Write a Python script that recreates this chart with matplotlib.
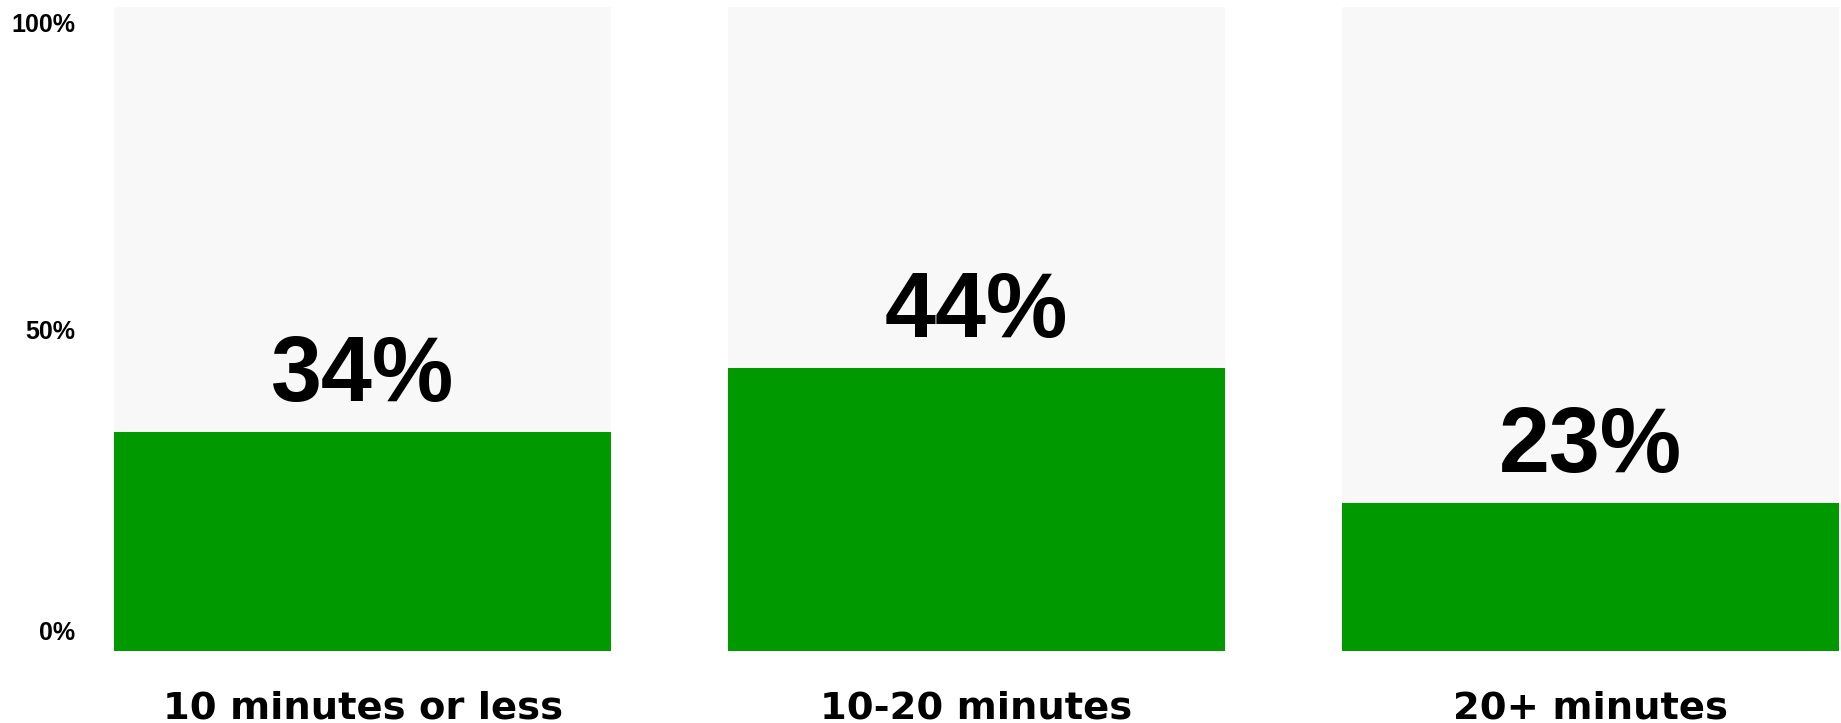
import matplotlib.pyplot as plt

categorias = ["10 minutes or less", "10-20 minutes", "20+ minutes"]
valores = [34, 44, 23]
rotulos = ["34%", "44%", "23%"]
ticks_y = [0, 50, 100]
rotulos_y = ["0%", "50%", "100%"]

plt.rcParams["font.family"] = ["Liberation Sans", "DejaVu Sans"]

fig = plt.figure(figsize=(18.41, 7.23), dpi=100)
ax = fig.add_axes([114 / 1841, 72 / 723, 1725 / 1841, 644 / 723])

x = list(range(len(categorias)))
largura = 0.809

# fundo cinza (100%) e barra verde
ax.bar(x, [100] * len(x), width=largura, color="#f8f8f8", zorder=1)
ax.bar(x, valores, width=largura, color="#009a00", zorder=2)

ax.set_xlim(-0.405, 2.405)
ax.set_ylim(0, 100)

# valores grandes acima das barras
for i, (v, r) in enumerate(zip(valores, rotulos)):
    ax.annotate(r, xy=(i, v), xytext=(0, 22), textcoords="offset points",
                ha="center", va="baseline", fontsize=66, fontweight="bold")

# categorias embaixo
for i, c in enumerate(categorias):
    ax.annotate(c, xy=(i, 0), xycoords=("data", "axes fraction"),
                xytext=(0, -48.5), textcoords="offset points",
                ha="center", va="baseline", fontsize=27.7, fontweight="bold",
                family=["DejaVu Sans"])

# rótulos do eixo y
desloc = [8, -7, -18]
for t, r, d in zip(ticks_y, rotulos_y, desloc):
    ax.annotate(r, xy=(0, t), xycoords=("figure pixels", "data"),
                xytext=(75 * 0.72, d), textcoords="offset points",
                ha="right", va="baseline", fontsize=18, fontweight="bold")

ax.set_xticks([])
ax.set_yticks([])
for s in ax.spines.values():
    s.set_visible(False)

fig.savefig("out.png", dpi=100)
